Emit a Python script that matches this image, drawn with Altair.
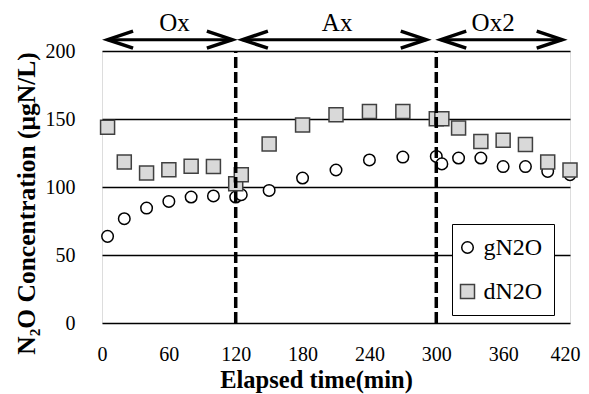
import altair as alt
import pandas as pd

# ---- data ----
times = [5, 20, 40, 60, 80, 100, 120, 125, 150, 180, 210, 240, 270, 300, 305, 320, 340, 360, 380, 400, 420]
g_vals = [63.7, 76.7, 84.5, 89.4, 92.6, 93.4, 92.6, 94.3, 97.5, 106.6, 112.5, 119.9, 122, 122.5, 117, 121.3, 121.3, 115, 115, 111.5, 109]
d_vals = [144, 118.4, 110.3, 112.7, 115.2, 115, 102.4, 109, 131.6, 145.6, 153.2, 155.6, 155.6, 150.2, 150.2, 143.4, 133.5, 134.3, 131.3, 118.4, 112.5]
series_names = ["gN2O", "dN2O"]

phase_labels = ["Ox", "Ax", "Ox2"]
phase_label_x = [65, 211, 351]
phase_start = [5, 126, 304]
phase_end = [117, 291, 413]
boundaries = [120, 300]

FONT = "Liberation Serif"
ARROW_Y = 208.3
LABEL_Y = 215

pts = pd.DataFrame({
    "t": times * 2,
    "v": g_vals + d_vals,
    "series": [series_names[0]] * len(times) + [series_names[1]] * len(times),
})
phases = pd.DataFrame({"label": phase_labels, "lx": phase_label_x,
                       "s": phase_start, "e": phase_end,
                       "y": [ARROW_Y] * 3, "ly": [LABEL_Y] * 3})
bounds = pd.DataFrame({"x": boundaries, "y0": [0, 0], "y1": [200, 200]})

xs = alt.Scale(domain=[0, 420], nice=False)
ys = alt.Scale(domain=[0, 200], nice=False)

x_axis = alt.Axis(values=list(range(0, 421, 60)), title="Elapsed time(min)", grid=False,
                  domain=False, ticks=False, tickSize=0, labelPadding=21, labelFlush=False,
                  labelAlign={"condition": {"test": "datum.value == 420", "value": "right"}, "value": "center"},
                  labelOffset={"condition": {"test": "datum.value == 420", "value": 10}, "value": 0},
                  labelFont=FONT, labelFontSize=20, labelColor="black",
                  titleFont=FONT, titleFontSize=24.5, titleFontWeight="bold", titleColor="black",
                  titleBaseline="alphabetic", titleY=64, titleX=214)
y_axis = alt.Axis(values=[0, 50, 100, 150, 200], title="N₂O Concentration (μgN/L)", grid=True,
                  gridColor="black", gridWidth=1.3, gridOpacity=1,
                  domain=False, ticks=False, tickSize=0, labelPadding=27, labelFlush=False,
                  labelFont=FONT, labelFontSize=20, labelColor="black",
                  titleFont=FONT, titleFontSize=25.5, titleFontWeight="bold", titleColor="black",
                  titleBaseline="alphabetic", titleX=-68, titleY=152)

legend = alt.Legend(title=None, orient="none", legendX=350, legendY=173,
                    fillColor="white", strokeColor="black", padding=11.5,
                    labelFont=FONT, labelFontSize=24, labelColor="black",
                    rowPadding=20, labelOffset=4, symbolOffset=-8, symbolStrokeWidth=1.5)

dom = series_names
points = alt.Chart(pts).mark_point(filled=True, opacity=1, fillOpacity=1, strokeWidth=1.5).encode(
    x=alt.X("t:Q", scale=xs, axis=x_axis),
    y=alt.Y("v:Q", scale=ys, axis=y_axis),
    shape=alt.Shape("series:N", scale=alt.Scale(domain=dom, range=["circle", "square"]), legend=legend),
    fill=alt.Fill("series:N", scale=alt.Scale(domain=dom, range=["white", "#d9d9d9"]), legend=legend),
    stroke=alt.Stroke("series:N", scale=alt.Scale(domain=dom, range=["black", "#404040"]), legend=legend),
    size=alt.Size("series:N", scale=alt.Scale(domain=dom, range=[133, 196]), legend=legend),
)

dashed = alt.Chart(bounds).mark_rule(color="black", strokeWidth=3.5, strokeDash=[11, 4]).encode(
    x=alt.X("x:Q", scale=xs), y=alt.Y("y0:Q", scale=ys), y2="y1:Q")

shafts = alt.Chart(phases).mark_rule(color="black", strokeWidth=3).encode(
    x=alt.X("s:Q", scale=xs), x2="e:Q", y=alt.Y("y:Q", scale=ys))

left_heads = alt.Chart(phases).mark_point(shape="M3,-1L0,0L3,1", size=289, filled=False,
                                          stroke="black", strokeWidth=3.5, opacity=1).encode(
    x=alt.X("s:Q", scale=xs), y=alt.Y("y:Q", scale=ys))
right_heads = alt.Chart(phases).mark_point(shape="M-3,-1L0,0L-3,1", size=289, filled=False,
                                           stroke="black", strokeWidth=3.5, opacity=1).encode(
    x=alt.X("e:Q", scale=xs), y=alt.Y("y:Q", scale=ys))

labels = alt.Chart(phases).mark_text(font=FONT, fontSize=25, color="black",
                                     align="center", baseline="alphabetic").encode(
    x=alt.X("lx:Q", scale=xs), y=alt.Y("ly:Q", scale=ys), text="label:N")

chart = alt.layer(points, dashed, shafts, left_heads, right_heads, labels).properties(
    width=468, height=272,
    autosize=alt.AutoSizeParams(type="none"),
    padding={"left": 94, "top": 43, "right": 11, "bottom": 71},
).configure_view(stroke="black", strokeWidth=2).configure(background="white")

chart.save("out.html", embed_options={"renderer": "svg", "actions": False})
